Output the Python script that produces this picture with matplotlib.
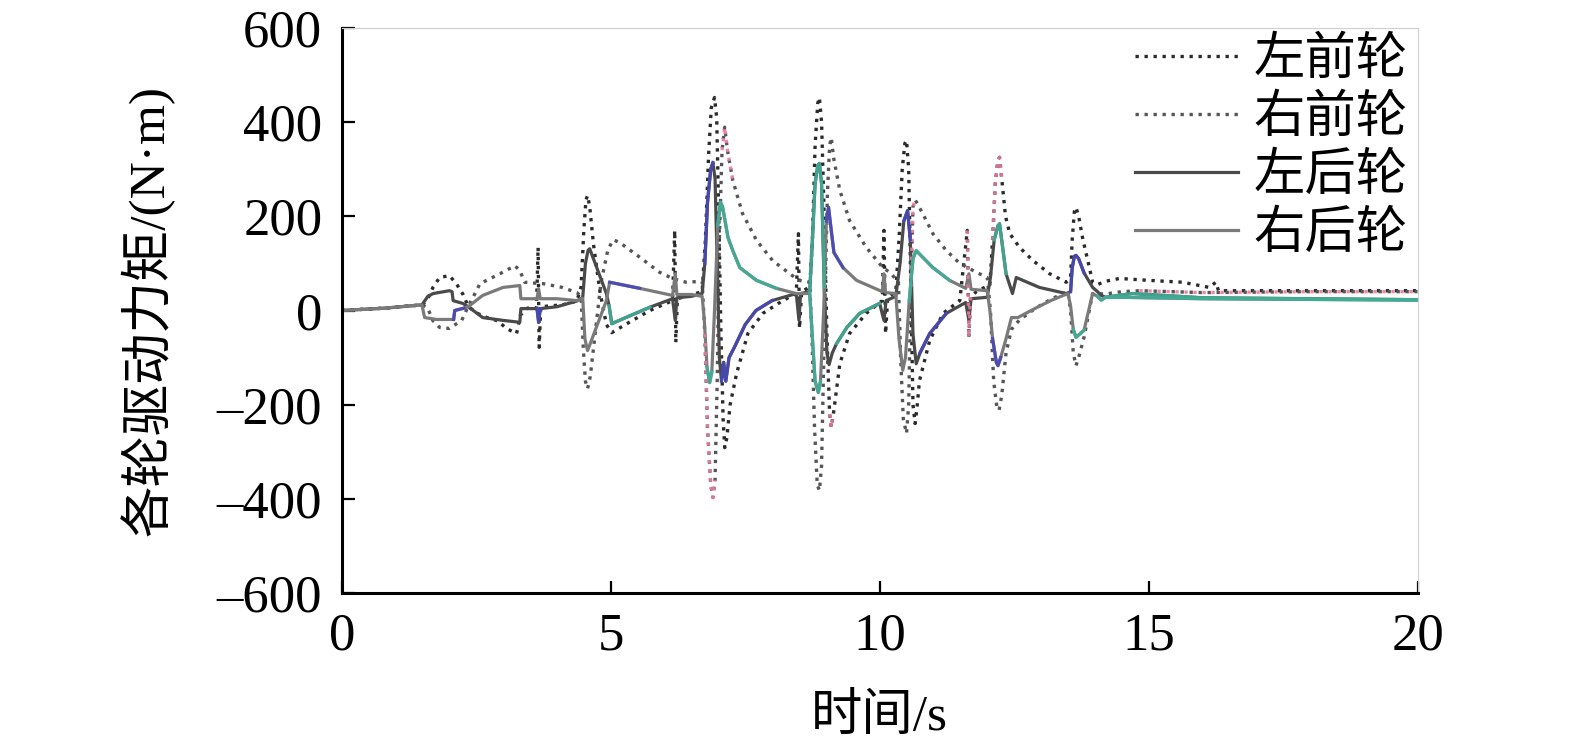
import numpy as np
import matplotlib
matplotlib.use("Agg")
import matplotlib.pyplot as plt
from matplotlib.ticker import FuncFormatter

# ---------------------------------------------------------------------------
# data (time in s, torque in N·m)
# ---------------------------------------------------------------------------
labels = ["左前轮", "右前轮", "左后轮", "右后轮"]

lf_t = [0, 0.8, 1.5, 1.6, 1.7, 1.82, 2.0, 2.13, 2.25, 2.35, 2.5, 2.7, 2.9, 3.06, 3.25,
        3.32, 3.45, 3.62, 3.65, 3.67, 3.7, 4.1, 4.37, 4.45, 4.5, 4.54, 4.57, 4.61, 4.68,
        4.8, 4.92, 5.02, 5.3, 5.73, 6.15, 6.19, 6.21, 6.24, 6.4, 6.7, 6.76, 6.82, 6.87,
        6.93, 6.97, 7.01, 7.05, 7.09, 7.12, 7.16, 7.22, 7.34, 7.55, 7.83, 8.2, 8.45, 8.49,
        8.51, 8.55, 8.7, 8.75, 8.8, 8.85, 8.88, 8.92, 8.97, 9.02, 9.07, 9.1, 9.14, 9.26,
        9.44, 9.75, 10.05, 10.08, 10.11, 10.15, 10.3, 10.36, 10.42, 10.47, 10.5, 10.54,
        10.58, 10.62, 10.66, 10.7, 10.74, 10.93, 11.18, 11.49, 11.63, 11.66, 11.69, 11.8,
        12.05, 12.1, 12.15, 12.2, 12.23, 12.27, 12.34, 12.42, 12.6, 12.85, 13.16, 13.47,
        13.55, 13.58, 13.62, 13.65, 13.7, 13.78, 13.87, 13.96, 14.05, 14.2, 14.46, 15.0,
        15.63, 16.13, 16.25, 16.3, 16.6, 18.0, 20.0]
lf_v = [0, 5, 12, 25, 50, 70, 74, 57, 35, 9, -5, -15, -22, -38, -49,
        -10, 5, 5, 134, -78, 8, 12, 20, 50, 170, 235, 244, 220, 140,
        40, -30, -47, -28, 0, 21, 170, -68, 25, 30, 40, 150, 330, 430,
        452, 410, 200, -50, -230, -291, -270, -200, -134, -49, -6, 21, 36, 163,
        -38, 40, 50, 150, 350, 440, 452, 400, 200, -50, -220, -248, -220, -113,
        -49, -6, 21, 170, -49, 28, 40, 150, 300, 355, 361, 300,
        50, -200, -240, -200, -149, -64, -6, 21, 170, -57, 30, 40,
        55, 150, 270, 320, 325, 280, 200, 163, 134, 106, 78, 60,
        70, 150, 210, 219, 200, 150, 106, 60, 55, 62, 68, 64,
        60, 49, 60, 42, 42, 42, 42]

rf_t = [0, 0.8, 1.5, 1.6, 1.69, 1.82, 2.0, 2.23, 2.35, 2.45, 2.57, 2.94, 3.22, 3.31, 3.4,
        3.6, 3.74, 4.1, 4.37, 4.45, 4.49, 4.53, 4.57, 4.62, 4.7, 4.82, 4.95, 5.05, 5.17,
        5.54, 5.91, 6.15, 6.4, 6.7, 6.75, 6.8, 6.86, 6.9, 6.94, 6.98, 7.02, 7.07, 7.12,
        7.17, 7.27, 7.45, 7.71, 8.01, 8.33, 8.5, 8.7, 8.74, 8.79, 8.84, 8.88, 8.92, 8.97,
        9.03, 9.07, 9.1, 9.15, 9.26, 9.44, 9.75, 10.06, 10.2, 10.35, 10.39, 10.44, 10.5,
        10.54, 10.58, 10.62, 10.66, 10.8, 10.99, 11.24, 11.49, 11.8, 12.0, 12.06, 12.12,
        12.18, 12.22, 12.27, 12.35, 12.45, 12.6, 12.9, 13.2, 13.5, 13.55, 13.6, 13.65,
        13.7, 13.8, 13.96, 14.2, 14.5, 14.83, 16.0, 18.0, 20.0]
rf_v = [0, 5, 12, 5, -21, -36, -38, -21, 9, 30, 57, 78, 95, 85, 60,
        58, 57, 49, 38, 30, -80, -150, -166, -140, -60, 60, 130, 150, 144,
        113, 81, 68, 60, 62, -50, -250, -370, -397, -360, -150, 150, 340, 389,
        340, 276, 206, 149, 106, 78, 64, 60, -50, -250, -370, -382, -330, -50,
        250, 350, 367, 320, 255, 191, 134, 91, 80, 60, -100, -230, -261,
        -200, 50, 220, 235, 206, 163, 127, 100, 81, 70, 0, -150,
        -205, -212, -180, -90, -40, -20, 5, 25, 40, 0, -90, -117,
        -100, -57, 36, 35, 40, 42, 38, 40, 40]

lr_t = [0, 0.8, 1.49, 1.6, 1.7, 2.0, 2.05, 2.07, 2.25, 2.35, 2.62, 3.0, 3.31, 3.33, 3.63,
        3.66, 3.69, 4.0, 4.37, 4.48, 4.53, 4.58, 4.61, 4.92, 4.97, 5.02, 5.3, 5.73, 6.15,
        6.2, 6.23, 6.5, 6.7, 6.75, 6.8, 6.86, 6.9, 6.94, 6.98, 7.02, 7.06, 7.1, 7.14, 7.2,
        7.3, 7.5, 7.7, 8.0, 8.45, 8.5, 8.53, 8.7, 8.75, 8.8, 8.85, 8.88, 8.92, 8.97, 9.02,
        9.06, 9.12, 9.2, 9.39, 9.63, 10.0, 10.08, 10.12, 10.3, 10.38, 10.45, 10.52, 10.57,
        10.62, 10.68, 10.75, 10.93, 11.24, 11.6, 11.66, 11.7, 12.0, 12.06, 12.13, 12.2,
        12.23, 12.28, 12.35, 12.47, 12.54, 12.97, 13.47, 13.55, 13.58, 13.62, 13.65,
        13.7, 13.8, 13.96, 14.05, 14.12, 14.2, 14.5, 14.7, 16.0, 20.0]
lr_v = [0, 5, 12, 30, 36, 42, 40, 21, 15, 8, -15, -21, -25, 4, 4,
        -25, 4, 8, 20, 28, 100, 128, 131, 36, 10, -28, -14, 7, 25,
        -21, 27, 30, 36, 100, 230, 300, 314, 280, 100, -100, -150, -110, -150, -100,
        -78, -30, 0, 21, 36, -21, 36, 40, 150, 270, 308, 312, 270, 50, -90,
        -115, -90, -70, -36, -6, 15, -21, 21, 30, 100, 190, 212, 150,
        -50, -113, -90, -49, -6, 17, -21, 25, 28, 70, 150, 180,
        184, 140, 78, 36, 70, 49, 36, 40, 90, 115, 117,
        110, 80, 49, 40, 32, 28, 33, 36, 27, 23]

rr_t = [0, 0.8, 1.49, 1.54, 1.76, 2.0, 2.08, 2.1, 2.27, 2.35, 2.62, 3.0, 3.31, 3.33, 3.63,
        3.66, 3.69, 4.0, 4.37, 4.48, 4.52, 4.57, 4.62, 4.92, 4.98, 5.54, 6.15, 6.2, 6.23,
        6.5, 6.7, 6.74, 6.79, 6.84, 6.88, 6.93, 6.99, 7.04, 7.08, 7.18, 7.27, 7.4, 7.71,
        8.08, 8.45, 8.7, 8.74, 8.8, 8.86, 8.9, 8.96, 9.01, 9.05, 9.09, 9.15, 9.32, 9.57,
        9.87, 10.05, 10.08, 10.11, 10.3, 10.36, 10.43, 10.48, 10.55, 10.62, 10.68, 10.99,
        11.3, 11.6, 11.66, 11.7, 12.0, 12.05, 12.1, 12.17, 12.2, 12.25, 12.35, 12.45,
        12.57, 12.9, 13.2, 13.5, 13.55, 13.6, 13.65, 13.8, 13.96, 14.05, 14.12, 14.2,
        14.5, 16.0, 20.0]
rr_v = [0, 5, 12, -15, -19, -19, -19, 0, 5, 8, 32, 49, 53, 25, 25,
        46, 25, 25, 21, 26, -60, -85, -70, 21, 60, 47, 32, 78, 34,
        34, 30, -20, -120, -153, -130, 0, 180, 230, 220, 155, 127, 91, 64,
        47, 36, 36, -40, -150, -174, -150, 0, 190, 219, 180, 123, 91, 64,
        49, 40, 78, 38, 36, -60, -127, -100, 20, 110, 127, 91,
        64, 47, 78, 45, 42, 0, -60, -110, -117, -100, -60, -15,
        -15, 5, 22, 36, 10, -40, -57, -42, 36, 30, 22, 28,
        28, 25, 22]

x_ticks = [0, 5, 10, 15, 20]
y_ticks = [-600, -400, -200, 0, 200, 400, 600]

# colour patches that show up along the curves in the reference
PINK, BLUE, TEAL = "#e77b9e", "#4747b8", "#3fae97"
patches = [
    ("lf", 11.6, 11.7, PINK), ("lf", 12.1, 12.32, PINK), ("lf", 9.05, 9.2, PINK),
    ("rf", 6.75, 6.97, PINK), ("rf", 7.03, 7.3, PINK), ("rf", 10.56, 10.7, PINK),
    ("rf", 14.8, 20.0, PINK),
    ("lr", 6.75, 6.92, BLUE), ("lr", 7.06, 8.0, BLUE), ("lr", 10.45, 10.6, BLUE),
    ("lr", 10.75, 11.3, BLUE), ("lr", 13.55, 13.9, BLUE), ("lr", 3.63, 3.7, BLUE),
    ("lr", 8.7, 9.0, TEAL), ("lr", 9.15, 10.0, TEAL), ("lr", 12.1, 12.4, TEAL),
    ("lr", 4.95, 5.8, TEAL), ("lr", 14.2, 20.0, TEAL),
    ("rr", 6.75, 6.9, TEAL), ("rr", 6.95, 8.1, TEAL), ("rr", 10.55, 11.4, TEAL),
    ("rr", 8.7, 8.9, TEAL), ("rr", 13.6, 13.8, TEAL), ("rr", 14.0, 20.0, TEAL),
    ("rr", 4.95, 5.6, BLUE), ("rr", 9.0, 9.5, BLUE), ("rr", 12.1, 12.3, BLUE),
    ("rr", 2.08, 2.3, BLUE),
]

# ---------------------------------------------------------------------------
plt.rcParams["font.family"] = ["Liberation Serif", "Noto Sans CJK SC"]

fig = plt.figure(figsize=(15.75, 7.5), dpi=100)
ax = fig.add_axes([0.217, 0.209, 0.683, 0.754])

dotted = (0, (1, 1.7))
series = {
    "lf": (lf_t, lf_v, dict(color="#2a2a2a", ls=dotted, lw=2.4)),
    "rf": (rf_t, rf_v, dict(color="#555555", ls=dotted, lw=2.4)),
    "lr": (lr_t, lr_v, dict(color="#4a4a4a", ls="-", lw=2.3)),
    "rr": (rr_t, rr_v, dict(color="#7a7a7a", ls="-", lw=2.3)),
}

handles = []
for key, lab in zip(["lf", "rf", "lr", "rr"], labels):
    t, v, st = series[key]
    h, = ax.plot(t, v, label=lab, **st)
    handles.append(h)

for key, t0, t1, col in patches:
    t, v, st = series[key]
    t = np.asarray(t)
    v = np.asarray(v)
    m = (t >= t0) & (t <= t1)
    if m.sum() >= 2:
        ax.plot(t[m], v[m], color=col, ls=st["ls"], lw=st["lw"], alpha=0.9)

ax.set_xlim(0, 20)
ax.set_ylim(-600, 600)
ax.set_xticks(x_ticks)
ax.set_yticks(y_ticks)
ax.yaxis.set_major_formatter(FuncFormatter(lambda v, p: f"{v:.0f}".replace("-", "\u2013")))
ax.tick_params(direction="in", length=9, width=1.6, labelsize=38, pad=14)

for s in ["left", "bottom"]:
    ax.spines[s].set_linewidth(2.2)
for s in ["top", "right"]:
    ax.spines[s].set_color("#cfcfcf")
    ax.spines[s].set_linewidth(0.8)

ax.set_xlabel("时间/s", fontsize=37, labelpad=24)
ax.set_ylabel("各轮驱动力矩/(N·m)", fontsize=37, labelpad=30)

ax.legend(handles=handles, loc="upper right", frameon=False, fontsize=37,
          handlelength=2.0, handletextpad=0.3, labelspacing=0.2,
          borderaxespad=0.05, borderpad=0.15)

fig.savefig("out.png", dpi=100)
